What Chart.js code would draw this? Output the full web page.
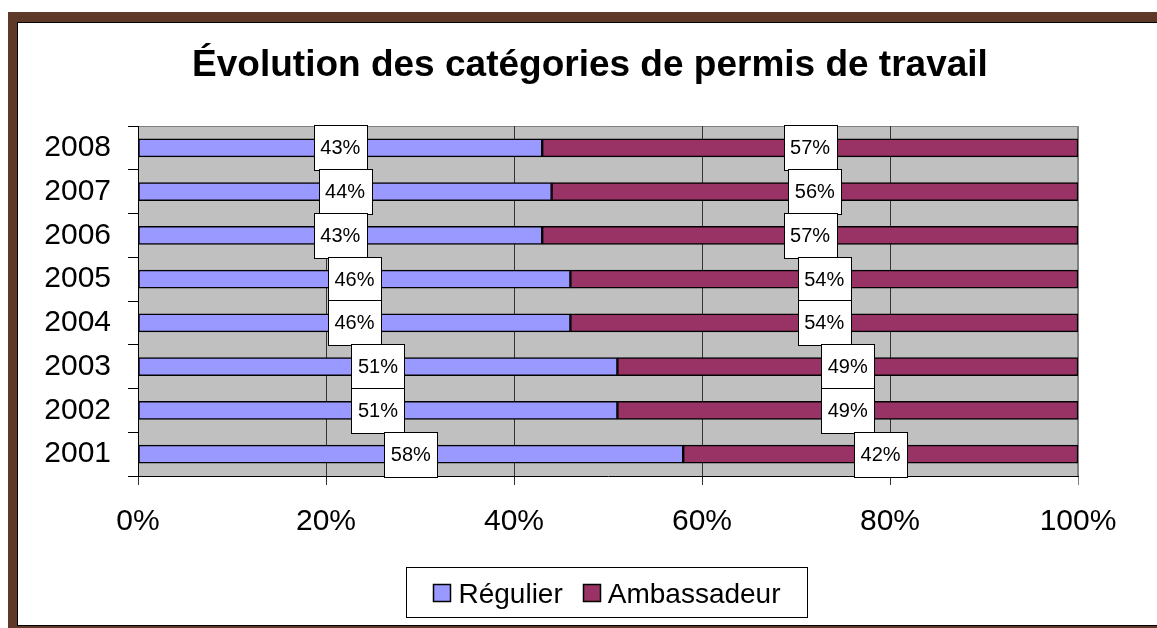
<!DOCTYPE html>
<html lang="fr">
<head>
<meta charset="utf-8">
<title>Évolution des catégories de permis de travail</title>
<script src="https://cdn.jsdelivr.net/npm/chart.js@4.4.1/dist/chart.umd.min.js"></script>
<style>
  html, body { margin: 0; padding: 0; background: #fff; }
  .frame { position: absolute; left: 8px; top: 12px; width: 1149px; height: 620px; background: #5e3828; }
  .inner { position: absolute; left: 17px; top: 22px; width: 1140px; height: 604px; background: #fff;
           box-sizing: border-box; border: 1px solid #000; border-right: none; }
  #chart { position: absolute; left: 0; top: 0; }
</style>
</head>
<body>
<div class="frame"></div>
<div class="inner"></div>
<canvas id="chart" width="1157" height="628"></canvas>
<script>
const years = ['2001', '2002', '2003', '2004', '2005', '2006', '2007', '2008'];
const regulier = [58, 51, 51, 46, 46, 43, 44, 43];
const ambassadeur = [42, 49, 49, 54, 54, 57, 56, 57];
const xTicks = [0, 20, 40, 60, 80, 100];

const FONT = '"Liberation Sans", Arial, sans-serif';
const TITLE = 'Évolution des catégories de permis de travail';

// grey plot background with a thin grey edge on top/right
const plotBackground = {
  id: 'plotBackground',
  beforeDraw(chart) {
    const { ctx, chartArea: a } = chart;
    ctx.save();
    ctx.fillStyle = '#c0c0c0';
    ctx.fillRect(a.left, a.top, a.right - a.left, a.bottom - a.top);
    ctx.strokeStyle = '#808080';
    ctx.lineWidth = 1;
    ctx.beginPath();
    ctx.moveTo(a.left, a.top + 0.5);
    ctx.lineTo(a.right - 0.5, a.top + 0.5);
    ctx.lineTo(a.right - 0.5, a.bottom);
    ctx.stroke();
    ctx.restore();
  }
};

// boxed percentage label in the middle of every segment
const boxLabels = {
  id: 'boxLabels',
  afterDatasetsDraw(chart) {
    const ctx = chart.ctx;
    ctx.save();
    ctx.font = '20px ' + FONT;
    ctx.textAlign = 'center';
    ctx.textBaseline = 'middle';
    chart.data.datasets.forEach((ds, i) => {
      const meta = chart.getDatasetMeta(i);
      for (let j = meta.data.length - 1; j >= 0; j--) {
        const bar = meta.data[j];
        const cx = (bar.x + bar.base) / 2;
        const cy = bar.y;
        const w = 53, h = 45;
        const x0 = Math.round(cx - w / 2) + 0.5;
        const y0 = Math.round(cy - h / 2) + 0.5;
        ctx.fillStyle = '#fff';
        ctx.fillRect(x0, y0, w, h);
        ctx.strokeStyle = '#000';
        ctx.lineWidth = 1;
        ctx.strokeRect(x0, y0, w, h);
        ctx.fillStyle = '#000';
        ctx.fillText(ds.data[j] + '%', cx, cy + 1);
      }
    });
    ctx.restore();
  }
};

// title on top, boxed legend below the axis
const titleAndLegend = {
  id: 'titleAndLegend',
  afterDraw(chart) {
    const ctx = chart.ctx;
    ctx.save();
    ctx.fillStyle = '#000';
    ctx.font = 'bold 37px ' + FONT;
    ctx.textAlign = 'center';
    ctx.textBaseline = 'alphabetic';
    ctx.fillText(TITLE, 590, 76);

    const box = { x: 406.5, y: 567.5, w: 401, h: 50 };
    ctx.strokeStyle = '#000';
    ctx.lineWidth = 1;
    ctx.strokeRect(box.x, box.y, box.w, box.h);

    ctx.font = '28px ' + FONT;
    ctx.textAlign = 'left';
    const sq = 17, gap = 8, itemGap = 20;
    const items = chart.data.datasets.map(ds => ({
      label: ds.label, color: ds.backgroundColor, w: ctx.measureText(ds.label).width
    }));
    const total = items.reduce((s, it) => s + sq + gap + it.w, 0) + itemGap * (items.length - 1);
    let x = box.x + (box.w - total) / 2;
    const midY = box.y + box.h / 2;
    items.forEach(it => {
      ctx.fillStyle = it.color;
      ctx.fillRect(Math.round(x) + 0.5, Math.round(midY - sq / 2) + 0.5, sq, sq);
      ctx.lineWidth = 1.5;
      ctx.strokeRect(Math.round(x) + 0.5, Math.round(midY - sq / 2) + 0.5, sq, sq);
      x += sq + gap;
      ctx.fillStyle = '#000';
      ctx.fillText(it.label, x, midY + 10);
      x += it.w + itemGap;
    });
    ctx.restore();
  }
};

new Chart(document.getElementById('chart'), {
  type: 'bar',
  data: {
    labels: years,
    datasets: [
      {
        label: 'Régulier',
        data: regulier,
        backgroundColor: '#9999ff',
        borderColor: '#000',
        borderWidth: 1.5,
        borderSkipped: false,
        barThickness: 18
      },
      {
        label: 'Ambassadeur',
        data: ambassadeur,
        backgroundColor: '#993366',
        borderColor: '#000',
        borderWidth: 1.5,
        borderSkipped: false,
        barThickness: 18
      }
    ]
  },
  options: {
    indexAxis: 'y',
    responsive: false,
    animation: false,
    layout: { padding: { left: 18, right: 79, top: 126, bottom: 0 } },
    plugins: {
      legend: { display: false },
      title: { display: false },
      tooltip: { enabled: false }
    },
    scales: {
      x: {
        stacked: true,
        min: 0,
        max: 100,
        afterBuildTicks(scale) {
          scale.ticks = xTicks.map(v => ({ value: v }));
        },
        ticks: {
          color: '#000',
          font: { family: FONT, size: 30 },
          padding: 19,
          maxRotation: 0,
          callback: v => v + '%'
        },
        grid: {
          color: c => (c.tick && c.tick.value === 100 ? '#808080' : '#333'),
          lineWidth: 1,
          tickLength: 9
        },
        border: { color: '#000', width: 1 },
        afterFit(scale) { scale.height = 152; }
      },
      y: {
        stacked: true,
        reverse: true,
        ticks: {
          color: '#000',
          font: { family: FONT, size: 30 },
          padding: 17
        },
        grid: {
          offset: true,
          drawOnChartArea: false,
          color: '#000',
          tickLength: 10
        },
        border: { color: '#000', width: 1 },
        afterFit(scale) { scale.width = 120; }
      }
    }
  },
  plugins: [plotBackground, boxLabels, titleAndLegend]
});
</script>
</body>
</html>
